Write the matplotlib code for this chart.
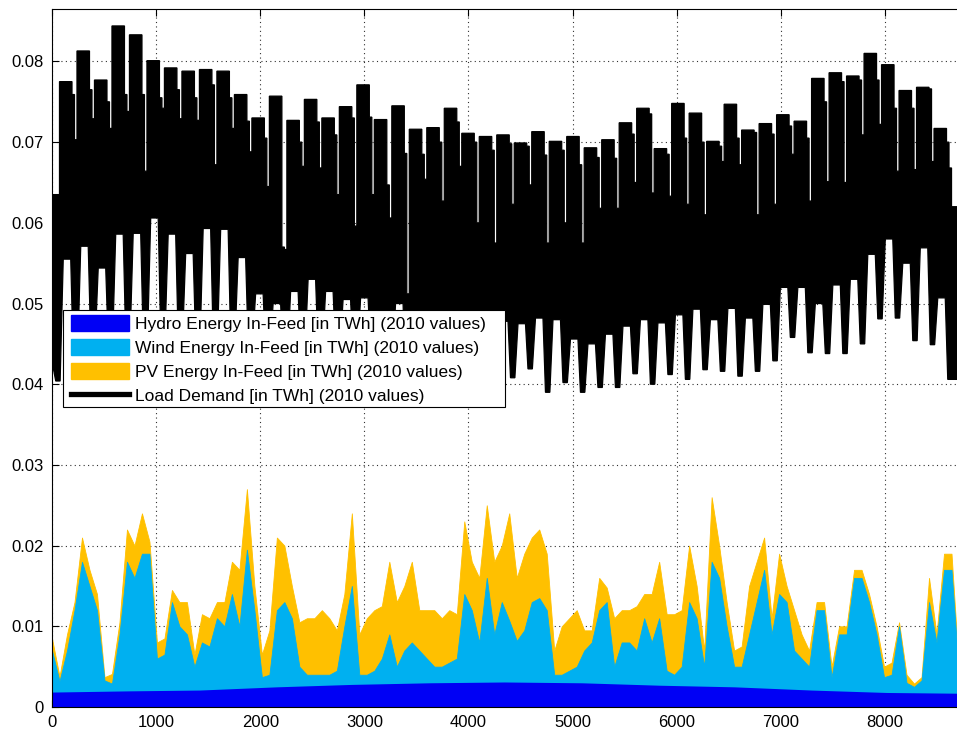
import matplotlib.pyplot as plt
import numpy as np
from matplotlib.patches import Patch, Rectangle
from matplotlib.lines import Line2D

plt.rcParams['font.family'] = ['Liberation Sans', 'DejaVu Sans']

# ------------------------------------------------------------------------------
# Load demand, read per calendar week of 2010 (TWh)
# week 0 = Fri 1 Jan .. Sun 3 Jan, week k = Mon .. Sun, week 52 = Mon 27 .. Fri 31 Dec
load_weekday_peak = [0.0635, 0.0775, 0.0813, 0.0777, 0.0844, 0.0833, 0.0801, 0.0792, 0.0788, 0.0790,
                     0.0788, 0.0759, 0.0730, 0.0757, 0.0727, 0.0753, 0.0730, 0.0744, 0.0771, 0.0728,
                     0.0745, 0.0716, 0.0718, 0.0742, 0.0711, 0.0707, 0.0709, 0.0699, 0.0713, 0.0701,
                     0.0707, 0.0693, 0.0703, 0.0724, 0.0742, 0.0692, 0.0748, 0.0736, 0.0701, 0.0747,
                     0.0715, 0.0723, 0.0734, 0.0726, 0.0779, 0.0786, 0.0782, 0.0810, 0.0796, 0.0764,
                     0.0768, 0.0717, 0.0620]
load_saturday_peak = [0.0635, 0.0759, 0.0765, 0.0750, 0.0759, 0.0759, 0.0755, 0.0765, 0.0755, 0.0771,
                      0.0755, 0.0726, 0.0705, 0.0570, 0.0700, 0.0725, 0.0709, 0.0730, 0.0731, 0.0647,
                      0.0686, 0.0685, 0.0700, 0.0725, 0.0700, 0.0690, 0.0698, 0.0695, 0.0684, 0.0690,
                      0.0672, 0.0681, 0.0680, 0.0710, 0.0735, 0.0685, 0.0705, 0.0700, 0.0695, 0.0705,
                      0.0712, 0.0710, 0.0720, 0.0705, 0.0750, 0.0775, 0.0777, 0.0777, 0.0742, 0.0742,
                      0.0766, 0.0700, 0.0600]
load_sunday_peak = [0.0635, 0.0703, 0.0729, 0.0717, 0.0738, 0.0664, 0.0742, 0.0729, 0.0727, 0.0672,
                    0.0717, 0.0688, 0.0645, 0.0567, 0.0670, 0.0668, 0.0635, 0.0596, 0.0635, 0.0606,
                    0.0512, 0.0654, 0.0627, 0.0670, 0.0600, 0.0575, 0.0623, 0.0647, 0.0575, 0.0600,
                    0.0575, 0.0618, 0.0618, 0.0650, 0.0637, 0.0633, 0.0623, 0.0610, 0.0676, 0.0672,
                    0.0610, 0.0623, 0.0685, 0.0627, 0.0651, 0.0650, 0.0709, 0.0722, 0.0664, 0.0666,
                    0.0676, 0.0668, 0.0600]
load_weekday_low = [0.0420, 0.0555, 0.0571, 0.0544, 0.0586, 0.0587, 0.0606, 0.0586, 0.0562, 0.0593,
                    0.0592, 0.0557, 0.0512, 0.0500, 0.0515, 0.0530, 0.0515, 0.0505, 0.0507, 0.0490,
                    0.0500, 0.0485, 0.0480, 0.0485, 0.0480, 0.0480, 0.0478, 0.0475, 0.0482, 0.0480,
                    0.0456, 0.0450, 0.0462, 0.0472, 0.0480, 0.0476, 0.0486, 0.0493, 0.0480, 0.0494,
                    0.0482, 0.0499, 0.0520, 0.0520, 0.0500, 0.0523, 0.0530, 0.0561, 0.0580, 0.0550,
                    0.0569, 0.0507, 0.0406]
load_weekend_low = [0.0404, 0.0433, 0.0450, 0.0450, 0.0455, 0.0455, 0.0460, 0.0455, 0.0450, 0.0455,
                    0.0455, 0.0450, 0.0440, 0.0430, 0.0440, 0.0440, 0.0440, 0.0435, 0.0440, 0.0430,
                    0.0400, 0.0420, 0.0420, 0.0420, 0.0415, 0.0410, 0.0408, 0.0419, 0.0390, 0.0402,
                    0.0390, 0.0396, 0.0396, 0.0413, 0.0400, 0.0412, 0.0406, 0.0418, 0.0416, 0.0410,
                    0.0416, 0.0429, 0.0458, 0.0439, 0.0438, 0.0438, 0.0450, 0.0481, 0.0482, 0.0454,
                    0.0449, 0.0406, 0.0400]

# Hydro in-feed at month boundaries (TWh)
hydro_hours = [0, 744, 1416, 2160, 2880, 3624, 4344, 5088, 5832, 6552, 7296, 8016, 8760]
hydro_level = [0.00185, 0.0020, 0.0021, 0.0025, 0.0028, 0.0030, 0.0031, 0.0030, 0.0027,
               0.0025, 0.0021, 0.0018, 0.0017]

# Stacked levels every 72 h: hydro+wind top and hydro+wind+PV top (TWh)
stack_hours = np.arange(0, 8760, 72)
wind_top = [0.0070, 0.0032, 0.0070, 0.0120, 0.0180, 0.0150, 0.0120, 0.0033, 0.0029, 0.0090,
            0.0180, 0.0160, 0.0190, 0.0190, 0.0060, 0.0065, 0.0130, 0.0100, 0.0090, 0.0050,
            0.0080, 0.0075, 0.0110, 0.0100, 0.0140, 0.0100, 0.0195, 0.0120, 0.0037, 0.0040,
            0.0120, 0.0130, 0.0110, 0.0050, 0.0040, 0.0040, 0.0040, 0.0040, 0.0045, 0.0100,
            0.0150, 0.0040, 0.0040, 0.0045, 0.0060, 0.0090, 0.0050, 0.0070, 0.0080, 0.0070,
            0.0060, 0.0050, 0.0050, 0.0055, 0.0060, 0.0140, 0.0120, 0.0080, 0.0160, 0.0090,
            0.0130, 0.0107, 0.0082, 0.0095, 0.0130, 0.0135, 0.0120, 0.0040, 0.0040, 0.0045,
            0.0050, 0.0070, 0.0080, 0.0120, 0.0130, 0.0050, 0.0080, 0.0080, 0.0070, 0.0110,
            0.0080, 0.0110, 0.0045, 0.0040, 0.0050, 0.0130, 0.0110, 0.0050, 0.0180, 0.0160,
            0.0100, 0.0050, 0.0050, 0.0090, 0.0130, 0.0170, 0.0090, 0.0140, 0.0130, 0.0070,
            0.0060, 0.0050, 0.0120, 0.0120, 0.0037, 0.0090, 0.0090, 0.0160, 0.0160, 0.0130,
            0.0090, 0.0037, 0.0040, 0.0100, 0.0030, 0.0025, 0.0033, 0.0130, 0.0080, 0.0170,
            0.0170, 0.0040]
pv_top = [0.0085, 0.0038, 0.0090, 0.0130, 0.0210, 0.0170, 0.0140, 0.0037, 0.0041, 0.0105,
          0.0220, 0.0200, 0.0240, 0.0205, 0.0080, 0.0085, 0.0145, 0.0130, 0.0130, 0.0065,
          0.0115, 0.0110, 0.0130, 0.0130, 0.0180, 0.0170, 0.0270, 0.0150, 0.0065, 0.0095,
          0.0210, 0.0200, 0.0150, 0.0105, 0.0110, 0.0110, 0.0120, 0.0110, 0.0095, 0.0140,
          0.0240, 0.0090, 0.0110, 0.0120, 0.0125, 0.0180, 0.0130, 0.0150, 0.0180, 0.0120,
          0.0120, 0.0120, 0.0110, 0.0120, 0.0115, 0.0230, 0.0180, 0.0160, 0.0250, 0.0180,
          0.0200, 0.0240, 0.0160, 0.0190, 0.0210, 0.0220, 0.0190, 0.0070, 0.0100, 0.0110,
          0.0120, 0.0095, 0.0095, 0.0160, 0.0148, 0.0110, 0.0120, 0.0120, 0.0125, 0.0140,
          0.0140, 0.0180, 0.0115, 0.0115, 0.0120, 0.0200, 0.0150, 0.0070, 0.0260, 0.0200,
          0.0130, 0.0070, 0.0075, 0.0150, 0.0180, 0.0210, 0.0110, 0.0190, 0.0150, 0.0120,
          0.0090, 0.0070, 0.0130, 0.0130, 0.0050, 0.0100, 0.0100, 0.0170, 0.0170, 0.0140,
          0.0100, 0.0050, 0.0055, 0.0105, 0.0040, 0.0029, 0.0037, 0.0160, 0.0090, 0.0190,
          0.0190, 0.0045]

labels = ['Hydro Energy In-Feed [in TWh] (2010 values)',
          'Wind Energy In-Feed [in TWh] (2010 values)',
          'PV Energy In-Feed [in TWh] (2010 values)',
          'Load Demand [in TWh] (2010 values)']
c_hydro, c_wind, c_pv = '#0000F5', '#00B0F0', '#FFC000'

# ------------------------------------------------------------------------------
fig = plt.figure(figsize=(9.57, 7.31), dpi=100)
ax = fig.add_axes([52 / 957, 24 / 731, 912 / 957, 698 / 731])

# renewables, drawn back to front as cumulative levels
ax.fill_between(stack_hours, 0, pv_top, color=c_pv, lw=0.6, edgecolor=c_pv)
ax.fill_between(stack_hours, 0, wind_top, color=c_wind, lw=0.6, edgecolor=c_wind)
ax.fill_between(hydro_hours, 0, hydro_level, color=c_hydro, lw=0)

# load demand band: stepped upper edge (weekdays / sat / sun), ramped lower edge
top_x, top_y, bot_x, bot_y = [], [], [], []
for k in range(len(load_weekday_peak)):
    mon = (7 * k - 4) * 24          # monday 00h of week k (in hours of the year)
    sat, sun = mon + 120, mon + 144
    top_x += [mon, sat, sat, sun, sun, sun + 24]
    top_y += [load_weekday_peak[k], load_weekday_peak[k], load_saturday_peak[k],
              load_saturday_peak[k], load_sunday_peak[k], load_sunday_peak[k]]
    bot_x += [mon + 36, sat - 12, sat + 12, sun + 30]
    bot_y += [load_weekday_low[k], load_weekday_low[k], load_weekend_low[k], load_weekend_low[k]]
ax.fill(np.r_[top_x, bot_x[::-1]], np.r_[top_y, bot_y[::-1]],
        facecolor='black', edgecolor='black', lw=0.9, joinstyle='miter')

ax.set_xlim(0, 8760)
ax.set_ylim(0, 0.0865)
ax.set_xticks(np.arange(0, 9000, 1000))
ax.set_yticks(np.arange(0, 0.085, 0.01))
ax.set_yticklabels(['0', '0.01', '0.02', '0.03', '0.04', '0.05', '0.06', '0.07', '0.08'])
ax.tick_params(direction='in', length=5, width=0.8, top=True, right=True, labelsize=12, pad=6)
ax.set_axisbelow(True)
ax.grid(True, linestyle=(0, (1, 3)), color='#303030', lw=0.8)
for s in ax.spines.values():
    s.set_linewidth(0.8)

# legend box (drawn separately so it keeps the wide MATLAB frame)
box = Rectangle((63 / 957, (731 - 407) / 731), 442 / 957, 97 / 731, transform=fig.transFigure,
                facecolor='white', edgecolor='black', lw=0.8, zorder=4.5, clip_on=False)
ax.add_patch(box)
handles = [Patch(facecolor=c_hydro, edgecolor=c_hydro),
           Patch(facecolor=c_wind, edgecolor=c_wind),
           Patch(facecolor=c_pv, edgecolor=c_pv),
           Line2D([], [], color='black', lw=3.8)]
leg = ax.legend(handles, labels, loc='upper left', bbox_to_anchor=(14 / 912, (707 - 310) / 698),
                borderaxespad=0, fontsize=12.5, handlelength=3.3, handleheight=1.05,
                handletextpad=0.4, labelspacing=0.4, borderpad=0.3, frameon=False)

fig.savefig('out.png', dpi=100)
